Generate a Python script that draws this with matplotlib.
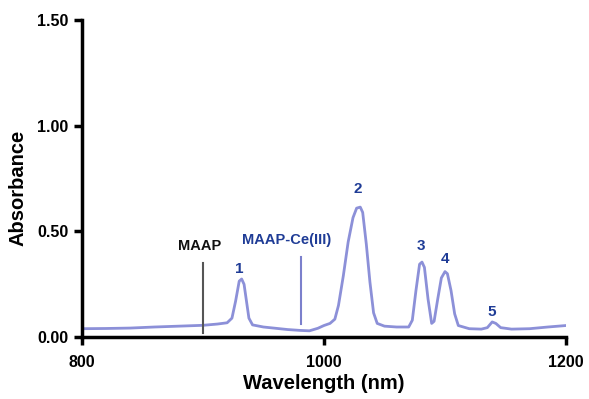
import matplotlib.pyplot as plt

# spectrum
wavelength = [800, 820, 840, 860, 880, 900, 912, 920, 924, 927, 930, 932, 934, 936, 938, 941,
              950, 960, 970, 980, 988, 995, 1000, 1005, 1009, 1012, 1016, 1020, 1024, 1027,
              1030, 1032, 1035, 1038, 1041, 1044, 1050, 1060, 1070, 1073, 1076, 1079, 1081,
              1083, 1086, 1089, 1091, 1094, 1097, 1100, 1102, 1105, 1108, 1111, 1120, 1130,
              1135, 1139, 1142, 1146, 1155, 1170, 1185, 1200]
absorbance = [0.040, 0.041, 0.043, 0.048, 0.052, 0.056, 0.062, 0.068, 0.090, 0.170, 0.265,
              0.275, 0.250, 0.170, 0.090, 0.058, 0.048, 0.042, 0.036, 0.032, 0.030, 0.042,
              0.055, 0.065, 0.085, 0.150, 0.290, 0.450, 0.565, 0.610, 0.615, 0.590, 0.440,
              0.260, 0.115, 0.065, 0.052, 0.048, 0.048, 0.080, 0.220, 0.345, 0.355, 0.330,
              0.180, 0.065, 0.075, 0.180, 0.280, 0.310, 0.300, 0.220, 0.110, 0.055, 0.040,
              0.038, 0.045, 0.072, 0.065, 0.045, 0.038, 0.040, 0.048, 0.055]

peak_labels = ["1", "2", "3", "4", "5"]
peak_x = [930, 1028, 1080, 1100, 1139]
peak_y = [0.32, 0.70, 0.43, 0.37, 0.12]

marker_names = ["MAAP", "MAAP-Ce(III)"]
marker_x = [900, 981]
marker_span = [(0.02, 0.35), (0.06, 0.38)]
marker_text_pos = [(897, 0.43), (969, 0.46)]
marker_colors = ["#555555", "#7b80cc"]
marker_text_colors = ["#111111", "#1f3c96"]

curve_color = "#8c90d8"
label_color = "#1f3c96"

plt.rcParams["font.family"] = ["Liberation Sans", "DejaVu Sans"]

fig = plt.figure(figsize=(5.89, 3.99), dpi=100)
ax = fig.add_axes([0.139, 0.155, 0.822, 0.795])

ax.plot(wavelength, absorbance, color=curve_color, linewidth=2)

for lab, x, y in zip(peak_labels, peak_x, peak_y):
    ax.text(x, y, lab, color=label_color, fontsize=11, fontweight="bold",
            ha="center", va="center")

for name, x, span, pos, c, tc in zip(marker_names, marker_x, marker_span,
                                      marker_text_pos, marker_colors, marker_text_colors):
    ax.plot([x, x], span, color=c, linewidth=1.5)
    ax.text(pos[0], pos[1], name, color=tc, fontsize=10.5, fontweight="bold",
            ha="center", va="center")

ax.set_xlim(800, 1200)
ax.set_ylim(0, 1.5)
ax.set_xticks([800, 1000, 1200])
ax.set_yticks([0, 0.5, 1.0, 1.5])
ax.set_yticklabels(["0.00", "0.50", "1.00", "1.50"])

for side in ["top", "right"]:
    ax.spines[side].set_visible(False)
for side in ["left", "bottom"]:
    ax.spines[side].set_linewidth(2.5)

ax.tick_params(direction="out", length=6, width=2.5, labelsize=11.5)
ax.tick_params(axis="x", pad=7)
for t in ax.get_xticklabels() + ax.get_yticklabels():
    t.set_fontweight("bold")

ax.set_xlabel("Wavelength (nm)", fontsize=14.5, fontweight="bold", labelpad=3)
ax.set_ylabel("Absorbance", fontsize=14.5, fontweight="bold")
ax.yaxis.set_label_coords(-0.112, 0.47)

fig.savefig("out.png", dpi=100)
